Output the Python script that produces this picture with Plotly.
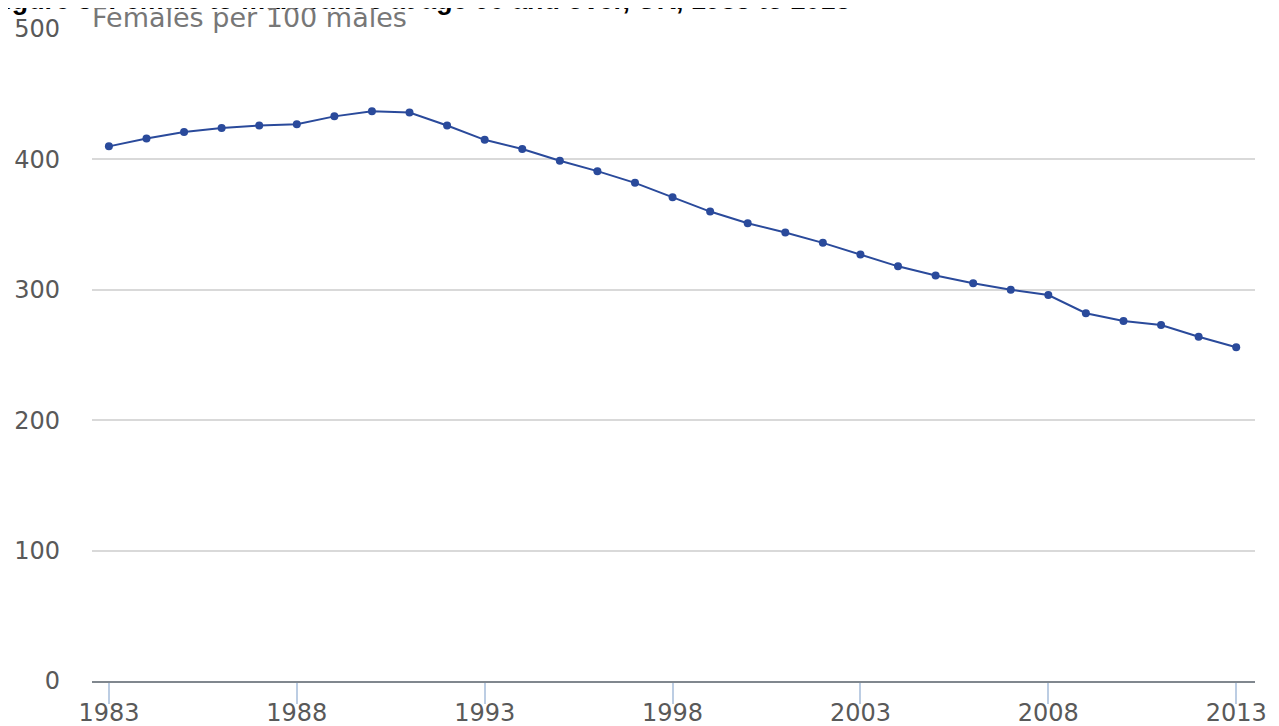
import plotly.graph_objects as go

years = list(range(1983, 2014))
ratio = [410, 416, 421, 424, 426, 427, 433, 437, 436, 426,
         415, 408, 399, 391, 382, 371, 360, 351, 344, 336,
         327, 318, 311, 305, 300, 296, 282, 276, 273, 264, 256]
x_ticks = [1983, 1988, 1993, 1998, 2003, 2008, 2013]
y_ticks = [0, 100, 200, 300, 400, 500]

title = "Figure 3: Female to male ratios at age 90 and over, UK, 1983 to 2013"
subtitle = "Females per 100 males"

fig = go.Figure()
fig.add_trace(go.Scatter(
    x=years, y=ratio, mode="lines+markers",
    line=dict(color="#2a4a9b", width=2),
    marker=dict(color="#2a4a9b", size=8),
    showlegend=False,
))

# page has an 8px body offset; margins compensate
L, R, T, B = 84, 32, 21, 53
W, H = 1279, 726
pw = W - L - R
ph = H - T - B
bottom = H - B

fig.update_layout(
    width=W, height=H,
    margin=dict(l=L, r=R, t=T, b=B, autoexpand=False),
    paper_bgcolor="white", plot_bgcolor="white",
    font=dict(family="DejaVu Sans", color="#595959", size=24),
    xaxis=dict(
        range=[1982.55, 2013.5], tickvals=x_ticks, automargin=False,
        showgrid=False, zeroline=False,
        showline=True, linecolor="#80878e", linewidth=2,
        ticks="outside", ticklen=21, tickcolor="#bccde3", tickwidth=2,
        ticklabelstandoff=-12,
        tickfont=dict(size=24, color="#595959"),
    ),
    yaxis=dict(
        range=[0, 500], tickvals=y_ticks, automargin=False,
        showgrid=True, gridcolor="#d9d9d9", gridwidth=2,
        zeroline=False,
        showline=False, ticks="", ticklabelstandoff=31,
        tickfont=dict(size=24, color="#595959"),
    ),
    annotations=[
        dict(text="<b>" + title + "</b>", xref="paper", yref="paper",
             x=(844 - L) / pw, y=(bottom + 8) / ph, xanchor="right", yanchor="middle",
             showarrow=False, font=dict(family="Liberation Sans", size=26.8, color="black")),
        dict(text=subtitle, xref="paper", yref="paper",
             x=(82 - L) / pw, y=(bottom - 10) / ph, xanchor="left", yanchor="middle",
             showarrow=False, font=dict(family="DejaVu Sans", size=27, color="#777777")),
    ],
)

fig.write_html("out.html")
